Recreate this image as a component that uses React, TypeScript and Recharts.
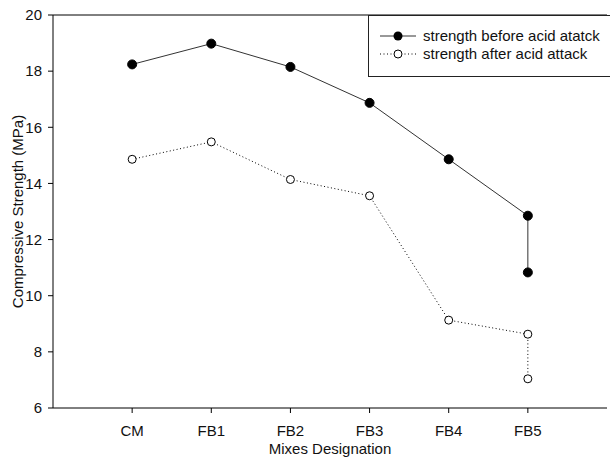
import { LineChart, Line, XAxis, YAxis, ReferenceLine } from "recharts";

const mixes = ["CM", "FB1", "FB2", "FB3", "FB4", "FB5"];
// FB5 was measured twice, so it appears twice in each series
const pointMixes = ["CM", "FB1", "FB2", "FB3", "FB4", "FB5", "FB5"];
const beforeValues = [18.24, 18.98, 18.15, 16.87, 14.86, 12.85, 10.83];
const afterValues = [14.86, 15.48, 14.14, 13.56, 9.13, 8.63, 7.04];
const yTicks = [6, 8, 10, 12, 14, 16, 18, 20];

const beforeData = pointMixes.map((m, i) => ({ x: mixes.indexOf(m), y: beforeValues[i] }));
const afterData = pointMixes.map((m, i) => ({ x: mixes.indexOf(m), y: afterValues[i] }));

const font = "'Liberation Sans', Arial, sans-serif";

function LegendBox() {
    return (
        <div
            style={{
                position: "absolute",
                left: 368,
                top: 15,
                border: "1px solid #222",
                width: 250,
                height: 62,
                boxSizing: "border-box",
                padding: "11px 0 0 11px",
                fontFamily: font,
                fontSize: 15,
                color: "#111",
                lineHeight: "18px",
                background: "#fff",
            }}
        >
            <div style={{ display: "flex", alignItems: "center" }}>
                <svg width={36} height={12} style={{ marginRight: 7 }}>
                    <line x1={0} y1={6} x2={36} y2={6} stroke="#333" />
                    <circle cx={18} cy={6} r={4.5} fill="#000" />
                </svg>
                strength before acid atatck
            </div>
            <div style={{ display: "flex", alignItems: "center" }}>
                <svg width={36} height={12} style={{ marginRight: 7 }}>
                    <line x1={0} y1={6} x2={36} y2={6} stroke="#000" strokeDasharray="1 2.5" />
                    <circle cx={18} cy={6} r={4} fill="#fff" stroke="#000" />
                </svg>
                strength after acid attack
            </div>
        </div>
    );
}

export default function App() {
    return (
        <div style={{ position: "absolute", left: 0, top: 0, width: 610, height: 460, background: "#fff", overflow: "hidden" }}>
            <LineChart
                width={610}
                height={460}
                margin={{ top: 15, right: 3, bottom: 0, left: 0 }}
            >
                <XAxis
                    dataKey="x"
                    type="number"
                    domain={[-1, 6]}
                    ticks={[0, 1, 2, 3, 4, 5]}
                    tickFormatter={(v) => mixes[v]}
                    allowDuplicatedCategory
                    height={52}
                    stroke="#000"
                    tickSize={5}
                    tickMargin={12}
                    tick={{ fill: "#111", fontSize: 15, fontFamily: font }}
                    label={{
                        content: ({ viewBox }: any) => (
                            <text
                                x={viewBox.x + viewBox.width / 2}
                                y={454}
                                textAnchor="middle"
                                fontSize={15}
                                fontFamily={font}
                                fill="#111"
                            >
                                Mixes Designation
                            </text>
                        ),
                    }}
                />
                <YAxis
                    type="number"
                    domain={[6, 20]}
                    ticks={yTicks}
                    width={53}
                    stroke="#000"
                    tickSize={5}
                    tickMargin={6}
                    tick={{ fill: "#111", fontSize: 15, fontFamily: font }}
                    label={{
                        content: ({ viewBox }: any) => {
                            const cy = viewBox.y + viewBox.height / 2;
                            return (
                                <text
                                    x={23}
                                    y={cy}
                                    transform={`rotate(-90 23 ${cy})`}
                                    textAnchor="middle"
                                    fontSize={15}
                                    fontFamily={font}
                                    fill="#111"
                                >
                                    Compressive Strength (MPa)
                                </text>
                            );
                        },
                    }}
                />
                <ReferenceLine y={20} stroke="#000" />
                <Line
                    data={beforeData}
                    dataKey="y"
                    type="linear"
                    stroke="#333"
                    strokeWidth={1}
                    dot={{ r: 4.5, fill: "#000", stroke: "#000", strokeWidth: 1 }}
                    isAnimationActive={false}
                />
                <Line
                    data={afterData}
                    dataKey="y"
                    type="linear"
                    stroke="#000"
                    strokeWidth={1}
                    strokeDasharray="1 2.5"
                    dot={{ r: 4, fill: "#fff", stroke: "#000", strokeWidth: 1, strokeDasharray: "" }}
                    isAnimationActive={false}
                />
            </LineChart>
            <LegendBox />
        </div>
    );
}
